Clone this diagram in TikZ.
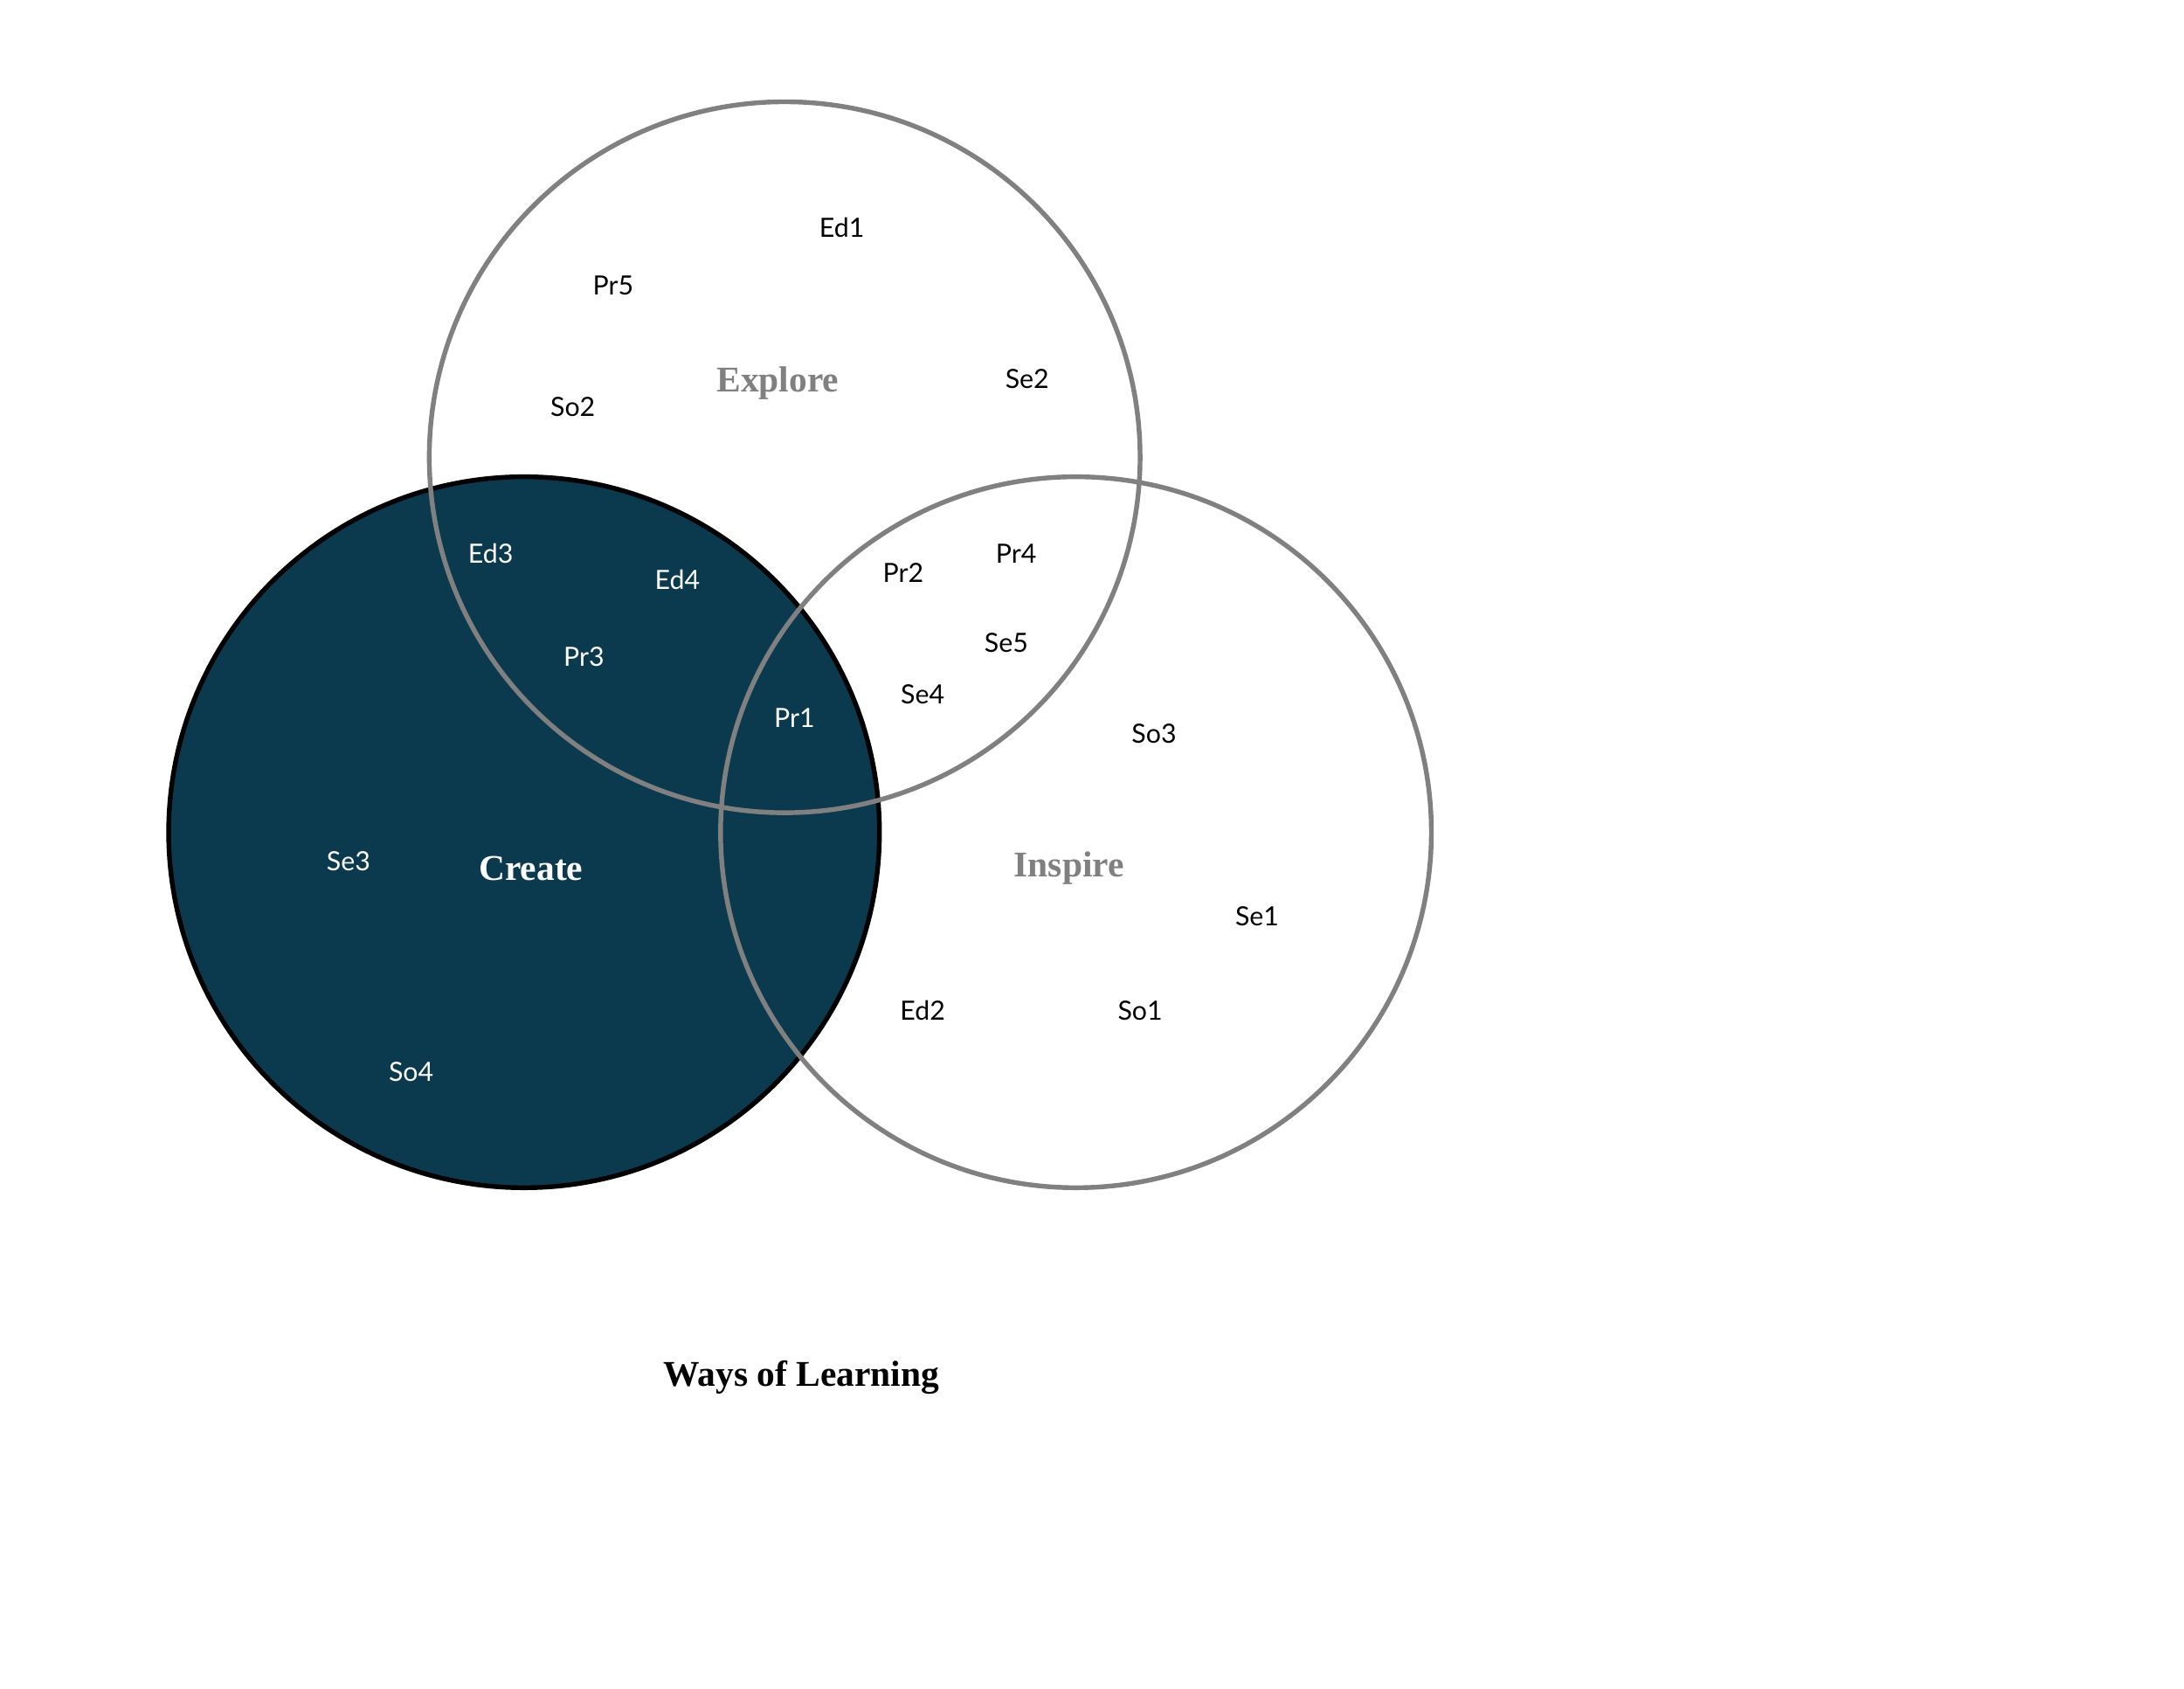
\documentclass[tikz,border=0pt]{standalone}
\usepackage{fontspec}
\setsansfont{Lato}
\newfontfamily\ttlfont{Liberation Serif}
\definecolor{teal}{HTML}{0B3A4F}
\definecolor{ring}{HTML}{808080}
\begin{document}
\begin{tikzpicture}[x=0.5pt,y=-0.5pt,
  lbl/.style={font=\sffamily\fontsize{9.5}{10}\selectfont},
  wl/.style={lbl,text=white},
  bl/.style={lbl,text=black},
  ttl/.style={font=\ttlfont\bfseries\fontsize{13}{15}\selectfont},
  ring/.style={draw=ring,line width=1.7pt}]
\useasboundingbox (0,0) rectangle (1567,1211);
\fill[white] (0,0) rectangle (1567,1211);
% circles
\coordinate (cc) at (376,597);
\coordinate (ce) at (563,328);
\coordinate (ci) at (772,597);
\draw[fill=teal,draw=black,line width=1.7pt] (cc) circle[radius=255];
\draw[ring] (ce) circle[radius=255];
\draw[ring] (ci) circle[radius=255];
% titles
\node[ttl,text=ring] (explore) at (558,275) {Explore};
\node[ttl,text=white] (create) at (381,623) {Create};
\node[ttl,text=ring] (inspire) at (767,623) {Inspire};
\node[ttl,text=black] (title) at (575,988) {Ways of Learning};
% labels
\node[bl] (ed1) at (604,163) {Ed1};
\node[bl] (pr5) at (440,205) {Pr5};
\node[bl] (se2) at (737,272) {Se2};
\node[bl] (so2) at (411,292) {So2};
\node[wl] (ed3) at (352,397) {Ed3};
\node[wl] (ed4) at (486,416) {Ed4};
\node[bl] (pr2) at (648,411) {Pr2};
\node[bl] (pr4) at (729,397) {Pr4};
\node[wl] (pr3) at (419,471) {Pr3};
\node[bl] (se5) at (722,461) {Se5};
\node[bl] (se4) at (662,498) {Se4};
\node[wl] (pr1) at (570,515) {Pr1};
\node[bl] (so3) at (828,526) {So3};
\node[wl] (se3) at (250,618) {Se3};
\node[bl] (se1) at (902,657) {Se1};
\node[bl] (ed2) at (662,725) {Ed2};
\node[bl] (so1) at (818,725) {So1};
\node[wl] (so4) at (295,769) {So4};
\end{tikzpicture}
\end{document}
